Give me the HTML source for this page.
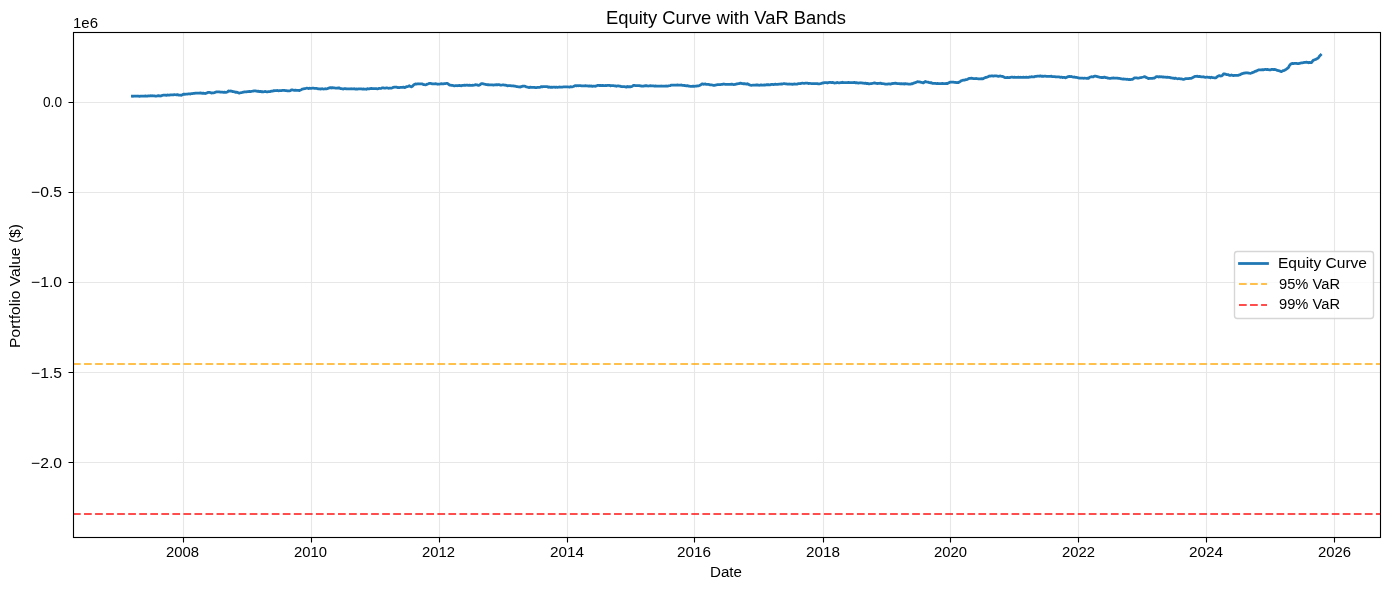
<!DOCTYPE html><html><head><meta charset="utf-8"><title>Equity Curve with VaR Bands</title>
<style>html,body{margin:0;padding:0;background:#fff;width:1389px;height:590px;overflow:hidden}svg{display:block;will-change:transform}text{font-family:"Liberation Sans",sans-serif;fill:#000}</style></head><body>
<svg width="1389" height="590" viewBox="0 0 1389 590">
<rect x="0" y="0" width="1389" height="590" fill="#fff"/>
<defs><clipPath id="ax"><rect x="73.5" y="32.5" width="1307" height="505"/></clipPath></defs>
<path d="M183.5 32.5V537.5M311.5 32.5V537.5M439.5 32.5V537.5M567.5 32.5V537.5M694.5 32.5V537.5M823.5 32.5V537.5M950.5 32.5V537.5M1078.5 32.5V537.5M1206.5 32.5V537.5M1334.5 32.5V537.5M73.5 102.5H1380.5M73.5 192.5H1380.5M73.5 282.5H1380.5M73.5 372.5H1380.5M73.5 462.5H1380.5" stroke="#b0b0b0" stroke-opacity="0.3" stroke-width="1.11" fill="none"/>
<path clip-path="url(#ax)" d="M132.40 96.20 133.40 96.24 134.40 96.14 135.40 96.04 136.40 96.10 137.40 96.01 138.40 96.16 139.40 96.35 140.40 96.06 141.40 96.04 142.40 96.19 143.40 96.17 144.40 96.12 145.40 95.96 146.40 96.08 147.40 96.18 148.40 95.86 149.40 95.99 150.40 95.76 151.40 95.84 152.40 95.75 153.40 95.98 154.40 95.82 155.40 96.04 156.40 96.02 157.40 95.97 158.40 95.62 159.40 95.92 160.40 95.99 161.40 95.89 162.40 95.33 163.40 95.22 164.40 95.10 165.40 95.08 166.40 95.32 167.40 94.99 168.40 95.07 169.40 95.16 170.40 94.89 171.40 94.92 172.40 94.90 173.40 94.85 174.40 94.60 175.40 94.75 176.40 94.93 177.40 94.60 178.40 95.08 179.40 95.08 180.40 95.08 181.40 95.26 182.40 94.77 183.40 94.18 184.40 94.25 185.40 94.25 186.40 94.06 187.40 94.11 188.40 93.92 189.40 93.95 190.40 93.99 191.40 93.58 192.40 93.62 193.40 93.43 194.40 93.42 195.40 93.13 196.40 93.13 197.40 93.10 198.40 93.17 199.40 93.23 200.40 92.95 201.40 93.12 202.40 93.43 203.40 93.13 204.40 93.46 205.40 93.49 206.40 93.19 207.40 92.60 208.40 92.33 209.40 92.46 210.40 92.61 211.40 93.01 212.40 92.86 213.40 92.83 214.40 92.61 215.40 92.23 216.40 91.90 217.40 91.77 218.40 91.97 219.40 91.95 220.40 92.23 221.40 92.19 222.40 92.13 223.40 92.27 224.40 92.16 225.40 92.40 226.40 92.28 227.40 91.95 228.40 90.95 229.40 91.16 230.40 91.00 231.40 91.09 232.40 91.49 233.40 91.54 234.40 91.84 235.40 92.34 236.40 92.13 237.40 92.42 238.40 92.80 239.40 93.05 240.40 92.74 241.40 92.53 242.40 92.46 243.40 92.22 244.40 91.86 245.40 91.90 246.40 91.82 247.40 91.55 248.40 91.65 249.40 91.38 250.40 91.55 251.40 91.33 252.40 91.22 253.40 91.01 254.40 90.98 255.40 90.81 256.40 91.05 257.40 91.38 258.40 91.11 259.40 91.67 260.40 91.38 261.40 91.81 262.40 91.56 263.40 91.79 264.40 91.68 265.40 91.42 266.40 91.83 267.40 91.85 268.40 91.61 269.40 91.57 270.40 91.58 271.40 91.15 272.40 91.15 273.40 90.70 274.40 90.74 275.40 90.60 276.40 90.59 277.40 90.46 278.40 90.80 279.40 90.56 280.40 90.69 281.40 90.51 282.40 90.37 283.40 90.40 284.40 90.33 285.40 90.55 286.40 90.70 287.40 90.92 288.40 90.97 289.40 90.94 290.40 90.72 291.40 89.92 292.40 89.94 293.40 90.22 294.40 90.46 295.40 90.11 296.40 90.37 297.40 90.37 298.40 90.27 299.40 90.66 300.40 90.09 301.40 89.65 302.40 89.07 303.40 88.96 304.40 88.64 305.40 88.52 306.40 88.23 307.40 88.19 308.40 88.55 309.40 88.25 310.40 88.34 311.40 88.27 312.40 88.18 313.40 88.15 314.40 88.29 315.40 88.28 316.40 88.42 317.40 88.57 318.40 88.87 319.40 88.92 320.40 89.00 321.40 88.89 322.40 88.72 323.40 89.02 324.40 88.97 325.40 88.76 326.40 88.81 327.40 88.66 328.40 88.29 329.40 87.92 330.40 87.66 331.40 87.99 332.40 87.61 333.40 87.96 334.40 87.94 335.40 88.03 336.40 88.22 337.40 88.19 338.40 87.87 339.40 88.00 340.40 88.58 341.40 88.52 342.40 88.88 343.40 89.03 344.40 88.67 345.40 88.61 346.40 88.97 347.40 88.95 348.40 88.91 349.40 88.96 350.40 88.83 351.40 88.74 352.40 88.95 353.40 88.84 354.40 88.75 355.40 89.08 356.40 89.01 357.40 89.09 358.40 88.89 359.40 88.95 360.40 88.91 361.40 88.94 362.40 89.12 363.40 88.98 364.40 89.11 365.40 89.05 366.40 89.24 367.40 88.67 368.40 88.96 369.40 88.75 370.40 88.71 371.40 88.43 372.40 88.53 373.40 88.71 374.40 88.59 375.40 88.61 376.40 88.56 377.40 88.77 378.40 88.60 379.40 88.27 380.40 88.50 381.40 88.30 382.40 87.84 383.40 87.93 384.40 88.23 385.40 88.06 386.40 87.90 387.40 87.96 388.40 88.29 389.40 88.17 390.40 88.18 391.40 88.19 392.40 87.79 393.40 87.32 394.40 87.06 395.40 87.18 396.40 87.15 397.40 87.55 398.40 87.49 399.40 87.71 400.40 87.31 401.40 87.43 402.40 87.41 403.40 87.16 404.40 87.57 405.40 87.31 406.40 86.72 407.40 86.60 408.40 86.24 409.40 85.75 410.40 86.52 411.40 86.82 412.40 86.23 413.40 85.20 414.40 84.47 415.40 83.95 416.40 84.08 417.40 83.88 418.40 83.76 419.40 83.94 420.40 83.79 421.40 83.96 422.40 83.90 423.40 84.57 424.40 84.63 425.40 84.78 426.40 84.58 427.40 84.12 428.40 83.77 429.40 83.37 430.40 83.45 431.40 83.56 432.40 83.86 433.40 83.79 434.40 83.77 435.40 83.76 436.40 83.83 437.40 84.24 438.40 84.15 439.40 84.06 440.40 83.92 441.40 83.72 442.40 83.80 443.40 83.86 444.40 83.59 445.40 83.53 446.40 83.45 447.40 83.42 448.40 84.10 449.40 85.00 450.40 85.02 451.40 85.40 452.40 85.27 453.40 85.59 454.40 85.84 455.40 85.68 456.40 85.69 457.40 85.74 458.40 85.65 459.40 85.44 460.40 85.60 461.40 85.77 462.40 85.37 463.40 85.35 464.40 85.21 465.40 85.39 466.40 85.14 467.40 85.14 468.40 85.48 469.40 85.14 470.40 85.42 471.40 85.46 472.40 85.26 473.40 85.25 474.40 85.10 475.40 84.66 476.40 84.83 477.40 84.95 478.40 85.38 479.40 85.11 480.40 84.47 481.40 83.62 482.40 83.72 483.40 83.95 484.40 84.23 485.40 84.33 486.40 84.56 487.40 84.74 488.40 84.76 489.40 84.81 490.40 84.86 491.40 84.83 492.40 84.93 493.40 85.15 494.40 84.97 495.40 84.91 496.40 84.66 497.40 84.98 498.40 84.65 499.40 84.74 500.40 85.09 501.40 85.08 502.40 84.97 503.40 84.77 504.40 85.08 505.40 85.13 506.40 85.43 507.40 85.78 508.40 85.57 509.40 85.52 510.40 85.57 511.40 85.84 512.40 85.92 513.40 85.88 514.40 86.19 515.40 86.14 516.40 86.61 517.40 86.74 518.40 86.89 519.40 86.79 520.40 87.08 521.40 86.63 522.40 86.25 523.40 86.14 524.40 86.21 525.40 86.40 526.40 86.96 527.40 87.02 528.40 87.30 529.40 87.55 530.40 87.14 531.40 87.28 532.40 87.43 533.40 87.46 534.40 87.34 535.40 87.61 536.40 87.62 537.40 87.48 538.40 87.32 539.40 87.37 540.40 87.12 541.40 86.56 542.40 86.85 543.40 86.53 544.40 86.68 545.40 86.53 546.40 86.65 547.40 86.62 548.40 87.28 549.40 86.97 550.40 87.34 551.40 87.11 552.40 87.32 553.40 87.02 554.40 87.19 555.40 87.38 556.40 87.02 557.40 87.34 558.40 87.21 559.40 86.98 560.40 87.04 561.40 87.02 562.40 87.07 563.40 86.98 564.40 86.92 565.40 86.98 566.40 86.86 567.40 86.80 568.40 86.97 569.40 87.09 570.40 86.71 571.40 86.93 572.40 86.81 573.40 86.45 574.40 85.96 575.40 85.54 576.40 85.87 577.40 85.56 578.40 85.76 579.40 85.70 580.40 85.65 581.40 85.88 582.40 85.79 583.40 85.93 584.40 85.86 585.40 85.74 586.40 85.91 587.40 85.96 588.40 86.13 589.40 85.90 590.40 86.11 591.40 85.94 592.40 86.38 593.40 86.20 594.40 86.18 595.40 86.28 596.40 85.92 597.40 85.37 598.40 85.44 599.40 85.49 600.40 85.43 601.40 85.66 602.40 85.48 603.40 85.49 604.40 85.69 605.40 85.49 606.40 85.66 607.40 85.45 608.40 85.42 609.40 85.32 610.40 85.88 611.40 85.55 612.40 85.65 613.40 85.71 614.40 85.84 615.40 85.92 616.40 86.30 617.40 85.96 618.40 85.98 619.40 86.16 620.40 86.22 621.40 86.63 622.40 86.74 623.40 86.57 624.40 86.61 625.40 86.84 626.40 87.07 627.40 86.41 628.40 86.88 629.40 86.61 630.40 86.90 631.40 86.55 632.40 86.24 633.40 85.47 634.40 85.29 635.40 85.73 636.40 85.73 637.40 85.62 638.40 85.63 639.40 85.56 640.40 85.87 641.40 86.00 642.40 86.07 643.40 86.15 644.40 85.87 645.40 85.75 646.40 85.62 647.40 85.87 648.40 86.01 649.40 85.77 650.40 85.73 651.40 85.89 652.40 85.86 653.40 85.90 654.40 86.06 655.40 85.95 656.40 86.20 657.40 86.10 658.40 86.16 659.40 86.11 660.40 86.03 661.40 86.01 662.40 86.12 663.40 86.08 664.40 86.21 665.40 86.18 666.40 85.98 667.40 86.21 668.40 85.90 669.40 85.75 670.40 85.54 671.40 85.02 672.40 85.11 673.40 85.12 674.40 85.08 675.40 85.04 676.40 85.04 677.40 84.95 678.40 85.06 679.40 85.02 680.40 85.11 681.40 84.98 682.40 85.32 683.40 85.42 684.40 85.50 685.40 85.58 686.40 85.84 687.40 85.63 688.40 86.07 689.40 86.16 690.40 86.29 691.40 86.42 692.40 86.26 693.40 86.26 694.40 86.33 695.40 86.24 696.40 86.14 697.40 85.82 698.40 85.98 699.40 85.56 700.40 85.02 701.40 84.39 702.40 83.79 703.40 84.26 704.40 84.19 705.40 83.93 706.40 84.46 707.40 84.27 708.40 84.39 709.40 84.58 710.40 84.96 711.40 84.81 712.40 85.00 713.40 85.31 714.40 85.38 715.40 85.13 716.40 84.98 717.40 84.70 718.40 84.66 719.40 84.70 720.40 84.57 721.40 84.40 722.40 84.40 723.40 84.01 724.40 84.12 725.40 84.28 726.40 84.29 727.40 84.40 728.40 84.34 729.40 84.27 730.40 84.41 731.40 84.24 732.40 84.18 733.40 84.55 734.40 84.49 735.40 84.38 736.40 83.91 737.40 83.94 738.40 83.73 739.40 83.52 740.40 83.15 741.40 83.41 742.40 83.71 743.40 83.75 744.40 83.71 745.40 83.92 746.40 84.15 747.40 83.74 748.40 84.25 749.40 84.93 750.40 85.10 751.40 85.26 752.40 85.17 753.40 85.05 754.40 85.05 755.40 85.12 756.40 84.92 757.40 84.99 758.40 85.14 759.40 85.29 760.40 84.98 761.40 84.99 762.40 85.03 763.40 85.16 764.40 84.90 765.40 85.08 766.40 84.67 767.40 84.74 768.40 84.69 769.40 84.79 770.40 84.78 771.40 84.35 772.40 84.39 773.40 84.53 774.40 84.33 775.40 84.14 776.40 84.46 777.40 84.31 778.40 84.24 779.40 84.02 780.40 84.18 781.40 83.92 782.40 84.05 783.40 83.68 784.40 83.72 785.40 83.93 786.40 83.86 787.40 84.12 788.40 84.11 789.40 83.99 790.40 84.20 791.40 84.20 792.40 84.43 793.40 84.08 794.40 84.00 795.40 84.14 796.40 84.18 797.40 84.03 798.40 83.63 799.40 83.54 800.40 83.63 801.40 83.27 802.40 83.06 803.40 83.26 804.40 83.35 805.40 83.20 806.40 83.11 807.40 83.18 808.40 83.53 809.40 83.36 810.40 83.49 811.40 83.58 812.40 83.68 813.40 83.57 814.40 83.73 815.40 83.56 816.40 83.68 817.40 83.62 818.40 83.97 819.40 83.80 820.40 83.69 821.40 83.37 822.40 83.00 823.40 83.03 824.40 82.61 825.40 82.61 826.40 82.63 827.40 82.99 828.40 82.67 829.40 82.43 830.40 82.47 831.40 82.65 832.40 82.49 833.40 82.65 834.40 83.07 835.40 82.98 836.40 82.78 837.40 82.43 838.40 82.80 839.40 82.78 840.40 82.62 841.40 82.65 842.40 82.25 843.40 82.66 844.40 82.55 845.40 82.65 846.40 82.70 847.40 82.55 848.40 82.36 849.40 82.68 850.40 82.52 851.40 82.60 852.40 82.57 853.40 82.62 854.40 82.33 855.40 82.87 856.40 82.74 857.40 82.93 858.40 83.15 859.40 82.94 860.40 82.75 861.40 82.97 862.40 83.01 863.40 83.20 864.40 83.37 865.40 83.14 866.40 83.58 867.40 83.39 868.40 83.74 869.40 83.77 870.40 83.64 871.40 83.54 872.40 83.33 873.40 83.18 874.40 82.95 875.40 83.20 876.40 83.48 877.40 83.50 878.40 83.40 879.40 83.31 880.40 83.10 881.40 83.59 882.40 83.54 883.40 83.71 884.40 83.84 885.40 84.07 886.40 84.17 887.40 84.21 888.40 83.92 889.40 83.90 890.40 84.16 891.40 83.67 892.40 83.51 893.40 83.49 894.40 83.39 895.40 83.07 896.40 83.30 897.40 83.56 898.40 83.55 899.40 83.62 900.40 83.93 901.40 83.69 902.40 83.83 903.40 83.76 904.40 84.08 905.40 83.59 906.40 83.80 907.40 83.84 908.40 84.04 909.40 84.05 910.40 84.19 911.40 83.76 912.40 83.77 913.40 83.27 914.40 82.87 915.40 82.70 916.40 82.14 917.40 81.62 918.40 81.96 919.40 81.93 920.40 82.19 921.40 82.48 922.40 82.60 923.40 82.92 924.40 82.14 925.40 81.51 926.40 81.85 927.40 82.04 928.40 82.21 929.40 82.68 930.40 82.74 931.40 82.75 932.40 83.37 933.40 83.39 934.40 83.47 935.40 83.45 936.40 83.54 937.40 83.47 938.40 83.66 939.40 83.56 940.40 83.57 941.40 83.58 942.40 83.32 943.40 83.53 944.40 83.53 945.40 83.61 946.40 83.39 947.40 83.64 948.40 83.07 949.40 82.53 950.40 82.12 951.40 82.07 952.40 82.18 953.40 82.17 954.40 82.37 955.40 82.34 956.40 82.60 957.40 82.50 958.40 82.69 959.40 81.95 960.40 81.34 961.40 80.59 962.40 80.45 963.40 80.18 964.40 80.20 965.40 79.70 966.40 79.58 967.40 79.37 968.40 78.80 969.40 78.38 970.40 78.36 971.40 78.17 972.40 78.32 973.40 78.53 974.40 78.66 975.40 78.66 976.40 78.48 977.40 78.73 978.40 78.92 979.40 78.88 980.40 78.79 981.40 78.67 982.40 78.89 983.40 78.56 984.40 77.94 985.40 77.50 986.40 77.45 987.40 76.88 988.40 76.64 989.40 76.01 990.40 76.10 991.40 75.83 992.40 75.85 993.40 76.20 994.40 75.95 995.40 75.83 996.40 75.96 997.40 76.09 998.40 76.30 999.40 76.11 1000.40 75.99 1001.40 76.28 1002.40 76.40 1003.40 76.81 1004.40 77.42 1005.40 77.70 1006.40 77.73 1007.40 77.33 1008.40 77.52 1009.40 77.60 1010.40 77.30 1011.40 77.15 1012.40 77.19 1013.40 77.48 1014.40 77.13 1015.40 77.28 1016.40 77.37 1017.40 77.41 1018.40 77.23 1019.40 77.35 1020.40 77.26 1021.40 77.32 1022.40 77.28 1023.40 77.13 1024.40 77.30 1025.40 77.43 1026.40 77.15 1027.40 77.26 1028.40 77.35 1029.40 76.96 1030.40 77.02 1031.40 76.71 1032.40 76.91 1033.40 76.97 1034.40 76.80 1035.40 76.33 1036.40 76.35 1037.40 76.13 1038.40 76.02 1039.40 76.27 1040.40 75.88 1041.40 76.27 1042.40 76.14 1043.40 76.39 1044.40 76.24 1045.40 76.15 1046.40 76.33 1047.40 76.43 1048.40 76.36 1049.40 76.47 1050.40 76.37 1051.40 76.18 1052.40 76.70 1053.40 76.73 1054.40 76.70 1055.40 76.75 1056.40 76.95 1057.40 76.78 1058.40 76.81 1059.40 76.99 1060.40 77.30 1061.40 77.02 1062.40 77.51 1063.40 77.34 1064.40 77.37 1065.40 77.83 1066.40 77.51 1067.40 76.89 1068.40 76.59 1069.40 76.34 1070.40 76.56 1071.40 76.49 1072.40 76.80 1073.40 77.02 1074.40 77.00 1075.40 77.34 1076.40 77.49 1077.40 77.62 1078.40 77.84 1079.40 78.11 1080.40 78.10 1081.40 78.02 1082.40 78.04 1083.40 78.27 1084.40 78.13 1085.40 78.23 1086.40 78.28 1087.40 78.19 1088.40 78.44 1089.40 77.54 1090.40 77.07 1091.40 76.67 1092.40 76.90 1093.40 76.78 1094.40 76.13 1095.40 76.17 1096.40 76.32 1097.40 76.59 1098.40 76.93 1099.40 77.15 1100.40 77.47 1101.40 77.50 1102.40 77.39 1103.40 77.55 1104.40 77.06 1105.40 77.55 1106.40 77.54 1107.40 78.09 1108.40 78.17 1109.40 78.32 1110.40 78.48 1111.40 78.19 1112.40 78.10 1113.40 77.91 1114.40 78.05 1115.40 78.03 1116.40 78.11 1117.40 78.09 1118.40 78.42 1119.40 78.41 1120.40 78.54 1121.40 78.79 1122.40 79.02 1123.40 78.95 1124.40 79.12 1125.40 79.21 1126.40 79.31 1127.40 79.21 1128.40 79.56 1129.40 79.40 1130.40 79.58 1131.40 79.44 1132.40 79.39 1133.40 78.73 1134.40 77.94 1135.40 77.94 1136.40 77.79 1137.40 78.09 1138.40 78.06 1139.40 77.88 1140.40 77.67 1141.40 77.54 1142.40 77.23 1143.40 76.98 1144.40 76.68 1145.40 76.89 1146.40 77.64 1147.40 77.86 1148.40 78.54 1149.40 78.35 1150.40 78.32 1151.40 78.36 1152.40 78.40 1153.40 78.12 1154.40 78.04 1155.40 77.41 1156.40 76.54 1157.40 76.59 1158.40 77.02 1159.40 76.67 1160.40 76.97 1161.40 76.72 1162.40 77.01 1163.40 76.97 1164.40 77.05 1165.40 77.19 1166.40 77.42 1167.40 77.23 1168.40 77.37 1169.40 77.36 1170.40 77.74 1171.40 77.77 1172.40 78.08 1173.40 78.10 1174.40 78.52 1175.40 78.11 1176.40 78.49 1177.40 78.76 1178.40 78.67 1179.40 78.70 1180.40 78.87 1181.40 78.79 1182.40 79.11 1183.40 79.38 1184.40 79.10 1185.40 78.67 1186.40 78.61 1187.40 78.59 1188.40 78.71 1189.40 78.34 1190.40 78.27 1191.40 78.34 1192.40 77.86 1193.40 77.20 1194.40 76.62 1195.40 76.27 1196.40 76.42 1197.40 76.21 1198.40 76.67 1199.40 76.48 1200.40 76.67 1201.40 76.97 1202.40 76.97 1203.40 76.73 1204.40 77.14 1205.40 77.29 1206.40 77.12 1207.40 77.19 1208.40 77.41 1209.40 77.25 1210.40 77.78 1211.40 77.26 1212.40 77.52 1213.40 77.71 1214.40 77.78 1215.40 77.91 1216.40 77.40 1217.40 76.56 1218.40 76.08 1219.40 75.64 1220.40 76.02 1221.40 75.97 1222.40 75.31 1223.40 73.97 1224.40 73.86 1225.40 74.11 1226.40 74.54 1227.40 74.68 1228.40 74.74 1229.40 75.36 1230.40 75.48 1231.40 74.96 1232.40 75.28 1233.40 75.65 1234.40 75.44 1235.40 75.40 1236.40 75.39 1237.40 75.38 1238.40 75.37 1239.40 74.83 1240.40 74.54 1241.40 73.89 1242.40 73.58 1243.40 73.25 1244.40 73.21 1245.40 72.87 1246.40 72.76 1247.40 72.95 1248.40 73.00 1249.40 73.18 1250.40 73.31 1251.40 73.03 1252.40 72.61 1253.40 72.19 1254.40 71.95 1255.40 71.24 1256.40 71.10 1257.40 70.41 1258.40 69.96 1259.40 69.93 1260.40 69.83 1261.40 69.89 1262.40 69.69 1263.40 69.90 1264.40 69.54 1265.40 69.27 1266.40 69.54 1267.40 69.39 1268.40 69.72 1269.40 69.93 1270.40 69.87 1271.40 69.45 1272.40 69.42 1273.40 69.68 1274.40 69.37 1275.40 69.58 1276.40 70.00 1277.40 70.47 1278.40 70.67 1279.40 70.87 1280.40 71.28 1281.40 71.69 1282.40 71.07 1283.40 70.56 1284.40 70.29 1285.40 69.70 1286.40 69.07 1287.40 68.29 1288.40 67.54 1289.40 65.54 1290.40 64.39 1291.40 63.73 1292.40 63.39 1293.40 63.58 1294.40 63.44 1295.40 63.48 1296.40 63.44 1297.40 63.64 1298.40 63.72 1299.40 63.45 1300.40 63.10 1301.40 62.99 1302.40 62.86 1303.40 62.73 1304.40 62.37 1305.40 62.28 1306.40 62.13 1307.40 62.31 1308.40 62.80 1309.40 62.32 1310.40 62.68 1311.40 62.71 1312.40 61.38 1313.40 60.08 1314.40 59.82 1315.40 59.46 1316.40 59.08 1317.40 58.44 1318.40 57.86 1319.40 56.20 1320.60 55.05" stroke="#1f77b4" stroke-width="2.78" fill="none" stroke-linejoin="round" stroke-linecap="square"/>
<path d="M73 364H1380.5" stroke="#ffa500" stroke-opacity="0.7" stroke-width="2.08" stroke-dasharray="7.7083 3.3333" fill="none"/>
<path d="M73 514H1380.5" stroke="#ff0000" stroke-opacity="0.7" stroke-width="2.08" stroke-dasharray="7.7083 3.3333" fill="none"/>
<rect x="73.5" y="32.5" width="1307" height="505" fill="none" stroke="#000" stroke-width="1.11" stroke-linejoin="miter"/>
<path d="M183.5 537.5V542.5M311.5 537.5V542.5M439.5 537.5V542.5M567.5 537.5V542.5M694.5 537.5V542.5M823.5 537.5V542.5M950.5 537.5V542.5M1078.5 537.5V542.5M1206.5 537.5V542.5M1334.5 537.5V542.5M73.5 102.5H68.5M73.5 192.5H68.5M73.5 282.5H68.5M73.5 372.5H68.5M73.5 462.5H68.5" stroke="#000" stroke-width="1.11" fill="none"/>
<rect x="1234.5" y="251.5" width="139" height="67" rx="2.78" ry="2.78" fill="#fff" fill-opacity="0.8" stroke="#cccccc" stroke-opacity="0.8" stroke-width="1.39"/>
<path d="M1239.5 263.5H1267.5" stroke="#1f77b4" stroke-width="2.78" stroke-linecap="square" fill="none"/>
<path d="M1239.0 284H1267" stroke="#ffa500" stroke-opacity="0.7" stroke-width="2.08" stroke-dasharray="7.7083 3.3333" fill="none"/>
<path d="M1239.0 305H1267" stroke="#ff0000" stroke-opacity="0.7" stroke-width="2.08" stroke-dasharray="7.7083 3.3333" fill="none"/>
<text x="606.00" y="24" font-size="17.67" textLength="240.00" lengthAdjust="spacingAndGlyphs">Equity Curve with VaR Bands</text>
<text x="73.00" y="28" font-size="14.72" textLength="25.00" lengthAdjust="spacingAndGlyphs">1e6</text>
<text x="43.00" y="107" font-size="14.72" textLength="19.00" lengthAdjust="spacingAndGlyphs">0.0</text>
<text x="31.00" y="197" font-size="14.72" textLength="31.00" lengthAdjust="spacingAndGlyphs">−0.5</text>
<text x="31.00" y="287" font-size="14.72" textLength="31.00" lengthAdjust="spacingAndGlyphs">−1.0</text>
<text x="31.00" y="378" font-size="14.72" textLength="31.00" lengthAdjust="spacingAndGlyphs">−1.5</text>
<text x="31.00" y="468" font-size="14.72" textLength="31.00" lengthAdjust="spacingAndGlyphs">−2.0</text>
<text x="166.00" y="557" font-size="14.72" textLength="33.00" lengthAdjust="spacingAndGlyphs">2008</text>
<text x="294.00" y="557" font-size="14.72" textLength="33.00" lengthAdjust="spacingAndGlyphs">2010</text>
<text x="422.00" y="557" font-size="14.72" textLength="33.00" lengthAdjust="spacingAndGlyphs">2012</text>
<text x="550.00" y="557" font-size="14.72" textLength="34.00" lengthAdjust="spacingAndGlyphs">2014</text>
<text x="677.00" y="557" font-size="14.72" textLength="34.00" lengthAdjust="spacingAndGlyphs">2016</text>
<text x="806.00" y="557" font-size="14.72" textLength="34.00" lengthAdjust="spacingAndGlyphs">2018</text>
<text x="934.00" y="557" font-size="14.72" textLength="33.00" lengthAdjust="spacingAndGlyphs">2020</text>
<text x="1062.00" y="557" font-size="14.72" textLength="33.00" lengthAdjust="spacingAndGlyphs">2022</text>
<text x="1189.00" y="557" font-size="14.72" textLength="34.00" lengthAdjust="spacingAndGlyphs">2024</text>
<text x="1318.00" y="557" font-size="14.72" textLength="33.00" lengthAdjust="spacingAndGlyphs">2026</text>
<text x="710.00" y="577" font-size="14.72" textLength="32.00" lengthAdjust="spacingAndGlyphs">Date</text>
<text transform="translate(20 348.00) rotate(-90)" x="0" y="0" font-size="14.72" textLength="124.00" lengthAdjust="spacingAndGlyphs">Portfolio Value ($)</text>
<text x="1278.00" y="268" font-size="14.72" textLength="89.00" lengthAdjust="spacingAndGlyphs">Equity Curve</text>
<text x="1279.00" y="289" font-size="14.72" textLength="61.00" lengthAdjust="spacingAndGlyphs">95% VaR</text>
<text x="1279.00" y="309" font-size="14.72" textLength="61.00" lengthAdjust="spacingAndGlyphs">99% VaR</text>
</svg></body></html>
